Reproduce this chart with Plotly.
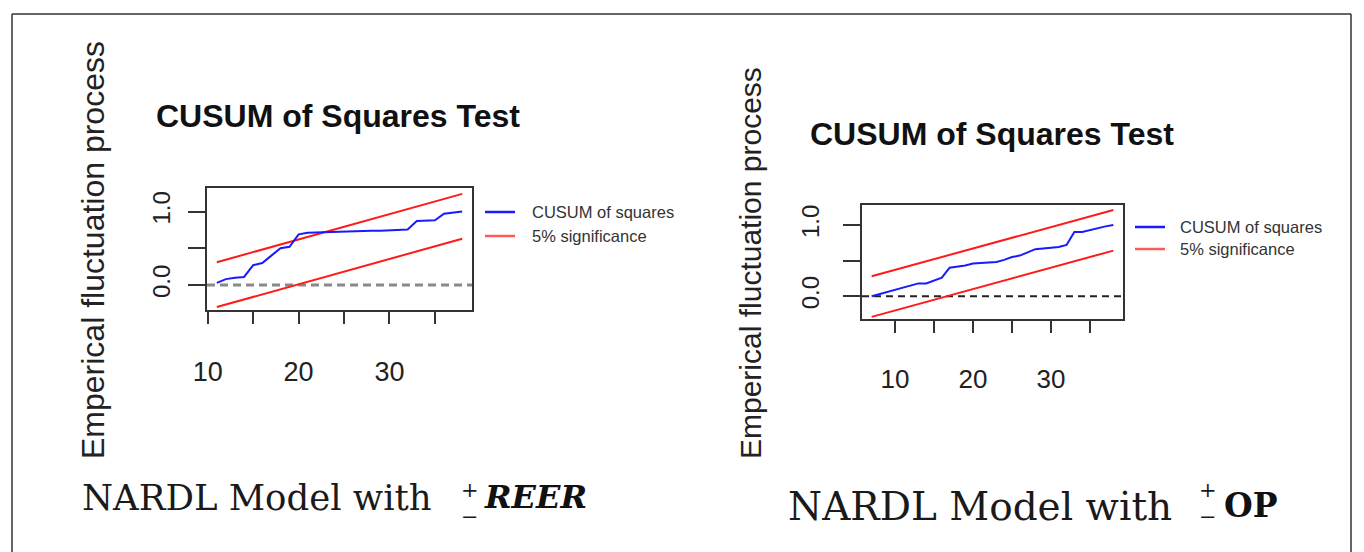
import plotly.graph_objects as go

W, H = 1364, 552

# ---------------- data ----------------
# Left panel: NARDL model with +/- REER
reer_t = list(range(11, 39))
reer_cusumsq = [0.03, 0.08, 0.10, 0.11, 0.27, 0.30, 0.40, 0.50, 0.52, 0.69,
                0.71, 0.715, 0.72, 0.725, 0.73, 0.73, 0.735, 0.74, 0.74, 0.745,
                0.75, 0.755, 0.87, 0.875, 0.88, 0.97, 0.98, 1.00]
reer_bound_t = [11, 38]
reer_upper = [0.31, 1.24]
reer_lower = [-0.30, 0.63]

# Right panel: NARDL model with +/- OP
op_t = list(range(7, 39))
op_cusumsq = [0.00, 0.03, 0.06, 0.09, 0.12, 0.16, 0.18, 0.18, 0.22, 0.26,
              0.40, 0.41, 0.43, 0.46, 0.47, 0.475, 0.48, 0.51, 0.55, 0.57,
              0.62, 0.66, 0.67, 0.68, 0.69, 0.72, 0.90, 0.90, 0.93, 0.96,
              0.98, 1.00]
op_bound_t = [7, 38]
op_upper = [0.28, 1.21]
op_lower = [-0.29, 0.64]

x_tickvals = [10, 15, 20, 25, 30, 35]
x_ticktext = ["10", "", "20", "", "30", ""]
y_tickvals = [0.0, 0.5, 1.0]
y_ticktext = ["0.0", "", "1.0"]

title_text = "CUSUM of Squares Test"
ylab_text = "Emperical fluctuation process"
legend_labels = ["CUSUM of squares", "5% significance"]

# ---------------- helpers ----------------
def px(x):
    return x / W

def py(y):
    return 1 - y / H

BLUE = "#1a1aff"
RED = "#ff1a1a"
AX = "#333333"
SANS = "Liberation Sans, Arial, sans-serif"
SERIF = "DejaVu Serif, serif"

fig = go.Figure()

panels = [
    dict(t=reer_t, v=reer_cusumsq, bt=reer_bound_t, up=reer_upper, lo=reer_lower,
         xa="x", ya="y", box=(207, 472, 188, 310), xr=[9.92, 39.08], yr=[-0.34, 1.32],
         dash_color="#8a8a8a", dash_w=3, dash="8px,5px"),
    dict(t=op_t, v=op_cusumsq, bt=op_bound_t, up=op_upper, lo=op_lower,
         xa="x2", ya="y2", box=(862, 1123, 205, 319), xr=[5.76, 39.24], yr=[-0.32, 1.28],
         dash_color="#222222", dash_w=2, dash="7px,5px"),
]

for i, p in enumerate(panels):
    fig.add_trace(go.Scatter(x=p["bt"], y=p["up"], mode="lines", xaxis=p["xa"], yaxis=p["ya"],
                             line=dict(color=RED, width=2), showlegend=False, hoverinfo="skip"))
    fig.add_trace(go.Scatter(x=p["bt"], y=p["lo"], mode="lines", xaxis=p["xa"], yaxis=p["ya"],
                             line=dict(color=RED, width=2), showlegend=False, hoverinfo="skip"))
    fig.add_trace(go.Scatter(x=p["t"], y=p["v"], mode="lines", xaxis=p["xa"], yaxis=p["ya"],
                             line=dict(color=BLUE, width=2), showlegend=False))
    # dashed zero line across the plot
    fig.add_shape(type="line", xref=p["xa"] + " domain", yref=p["ya"], x0=0, x1=1, y0=0, y1=0,
                  line=dict(color=p["dash_color"], width=p["dash_w"], dash=p["dash"]), layer="below")

def axis_common(size):
    return dict(showline=True, mirror=True, linecolor=AX, linewidth=1.5, showgrid=False,
                zeroline=False, ticks="outside", tickcolor=AX, tickwidth=1.5, automargin=False,
                tickfont=dict(family=SANS, size=size, color="#222"))

l, r, t, b = panels[0]["box"]
fig.update_layout(
    xaxis=dict(domain=[px(l), px(r)], range=panels[0]["xr"], tickvals=x_tickvals, ticktext=x_ticktext,
               ticklen=12, ticklabelstandoff=25, anchor="y", **axis_common(27)),
    yaxis=dict(domain=[py(b), py(t)], range=panels[0]["yr"], tickvals=y_tickvals, ticktext=y_ticktext,
               ticklen=17, tickangle=-90, ticklabelstandoff=9, anchor="x", **axis_common(24)),
)
l, r, t, b = panels[1]["box"]
fig.update_layout(
    xaxis2=dict(domain=[px(l), px(r)], range=panels[1]["xr"], tickvals=x_tickvals, ticktext=x_ticktext,
                ticklen=12, ticklabelstandoff=24, anchor="y2", **axis_common(26)),
    yaxis2=dict(domain=[py(b), py(t)], range=panels[1]["yr"], tickvals=y_tickvals, ticktext=y_ticktext,
                ticklen=17, tickangle=-90, ticklabelstandoff=15, anchor="x2", **axis_common(24)),
)

ann = []
# titles
ann.append(dict(text=f"<b>{title_text}</b>", x=px(338), y=py(116), font=dict(family=SANS, size=32, color="#111")))
ann.append(dict(text=f"<b>{title_text}</b>", x=px(992), y=py(134), font=dict(family=SANS, size=32, color="#111")))
# y-axis titles
ann.append(dict(text=ylab_text, x=px(93), y=py(250), textangle=-90, font=dict(family=SANS, size=32, color="#222")))
ann.append(dict(text=ylab_text, x=px(750), y=py(263), textangle=-90, font=dict(family=SANS, size=30, color="#222")))

# legends (custom)
legend_pos = [(485, 530, [212, 236]), (1135, 1178, [227, 249])]
shapes = []
for (lx, tx, ys) in legend_pos:
    for col, yy, lab in zip([BLUE, "#ff5a5a"], ys, legend_labels):
        shapes.append(dict(type="line", xref="paper", yref="paper", x0=px(lx), x1=px(lx + 30),
                           y0=py(yy), y1=py(yy), line=dict(color=col, width=2.5)))
        ann.append(dict(text=lab, x=px(tx), y=py(yy), xanchor="left",
                        font=dict(family=SANS, size=16.5, color="#333")))

# captions
ann.append(dict(text="NARDL Model with", x=px(80), y=py(497), xanchor="left",
                font=dict(family=SERIF, size=35.5, color="#1a1a1a")))
ann.append(dict(text="+<br>\u2212", x=px(470), y=py(503), font=dict(family=SERIF, size=21, color="#1a1a1a")))
ann.append(dict(text="<b><i>REER</i></b>", x=px(482), y=py(497), xanchor="left",
                font=dict(family=SERIF, size=32, color="#111")))

ann.append(dict(text="NARDL Model with", x=px(786), y=py(506), xanchor="left",
                font=dict(family=SERIF, size=39, color="#1a1a1a")))
ann.append(dict(text="+<br>\u2212", x=px(1208), y=py(504), font=dict(family=SERIF, size=21, color="#1a1a1a")))
ann.append(dict(text="<b>OP</b>", x=px(1222), y=py(505), xanchor="left",
                font=dict(family=SERIF, size=33, color="#111")))

for a in ann:
    a.setdefault("xref", "paper")
    a.setdefault("yref", "paper")
    a.setdefault("showarrow", False)
    a.setdefault("xanchor", "center")
    a.setdefault("yanchor", "middle")

# outer frame (left, top, right)
for (x0, y0, x1, y1) in [(12, 14, 12, 552), (12, 14, 1351, 14), (1351, 14, 1351, 552)]:
    shapes.append(dict(type="line", xref="paper", yref="paper", x0=px(x0), x1=px(x1),
                       y0=py(y0), y1=py(y1), line=dict(color="#333", width=1.5)))

fig.update_layout(
    width=W, height=H, autosize=False,
    margin=dict(l=0, r=0, t=0, b=0, pad=0, autoexpand=False),
    paper_bgcolor="white", plot_bgcolor="white",
    showlegend=False,
    annotations=ann, shapes=fig.layout.shapes + tuple(shapes),
)

fig.write_html("out.html", config={"displayModeBar": False},
               post_script="document.body.style.margin='0';document.body.style.overflow='hidden';")
